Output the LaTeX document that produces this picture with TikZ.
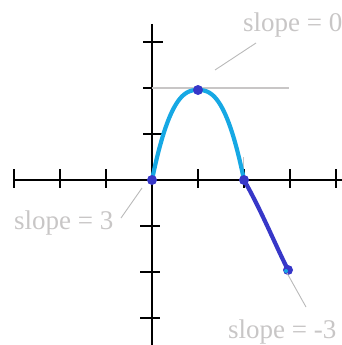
\documentclass[tikz,border=0pt]{standalone}
\usepackage{fontspec}
\setmainfont{Liberation Serif}
\definecolor{lblue}{RGB}{22,168,228}
\definecolor{dblue}{RGB}{55,55,200}
\definecolor{lgray}{RGB}{200,198,198}
\definecolor{pgray}{RGB}{185,185,185}
\tikzset{
  axisline/.style={black,line width=1.8pt},
  tickmark/.style={black,line width=1.6pt},
  lbl/.style={text=lgray,font=\fontsize{27}{30}\selectfont,inner sep=0pt,anchor=base west},
  pointer/.style={pgray,line width=0.9pt},
  dotmark/.style={circle,fill=dblue,inner sep=0pt,minimum size=10pt},
}
\begin{document}
\begin{tikzpicture}[x=1pt,y=-1pt]
\useasboundingbox (0,0) rectangle (342,345);
% axes
\draw[axisline] (13,180) -- (342,180);
\draw[axisline] (152,24) -- (152,345);
\foreach \xx in {14,60,106,198,244,290,336}{\draw[tickmark] (\xx,169) -- (\xx,188);}
\foreach \yy in {42,88,134}{\draw[tickmark] (143,\yy) -- (163,\yy);}
\foreach \yy in {226,272,318}{\draw[tickmark] (140,\yy) -- (160,\yy);}
% tangent at the maximum
\coordinate (tl) at (152,88);
\coordinate (tr) at (289,88);
\draw[lgray,line width=1.4pt] (tl) -- (tr);
\draw[lgray,line width=1pt] (243,157) -- (243,180);
% curve
\coordinate (p0) at (152,180);
\coordinate (p1) at (198,90);
\coordinate (p2) at (244,180);
\coordinate (p3) at (288,270);
\draw[lblue,line width=4.2pt,line cap=round,smooth] plot[domain=-1:1,samples=80] ({198+46*\x},{180-90*(1-abs(\x)^2.5)});
\draw[dblue,line width=4.2pt,line cap=round] (p2) .. controls (262,212) and (274,242) .. (p3);
% dots
\node[dotmark] (d0) at (p0) {};
\node[dotmark] (d1) at (p1) {};
\node[dotmark] (d2) at (p2) {};
\node[dotmark] (d3) at (p3) {};
\fill[lblue] (286,271) circle (2pt);
% labels
\node[lbl] (s0) at (243,32) {slope = 0};
\node[lbl] (s3) at (14,229) {slope = 3};
\node[lbl] (sm3) at (228,338) {slope = -3};
\draw[pointer] (215,70) -- (256,43);
\draw[pointer] (142,188) -- (121,218);
\draw[pointer] (287,273) -- (306,307);
\end{tikzpicture}
\end{document}
